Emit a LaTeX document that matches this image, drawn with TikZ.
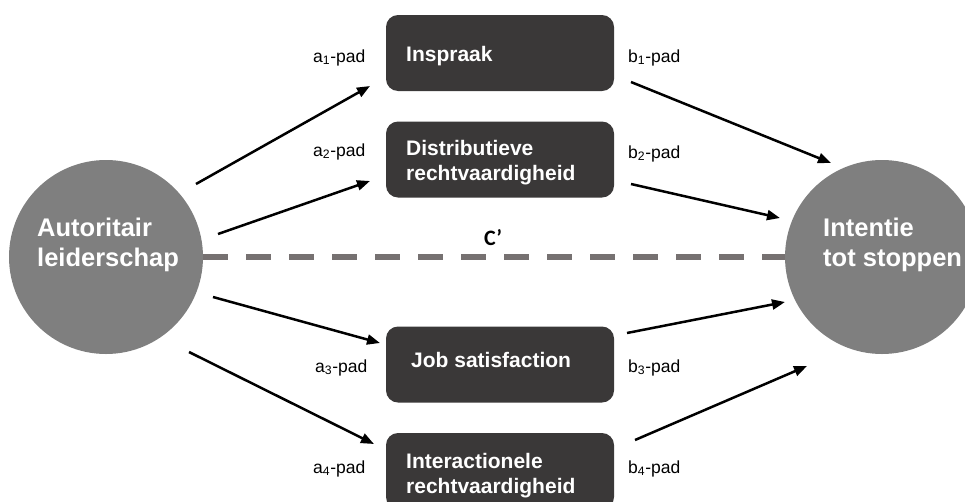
\documentclass[tikz,border=0pt]{standalone}
\usepackage{fontspec}
\setmainfont{Liberation Sans}
\newfontfamily\calibrifont{Carlito}
\usetikzlibrary{arrows.meta}
\definecolor{circgray}{HTML}{7F7F7F}
\definecolor{boxdark}{HTML}{3A3838}
\definecolor{dashgray}{HTML}{767171}
\tikzset{
  circ/.style={circle, fill=circgray, minimum size=194pt, inner sep=0pt},
  circtext/.style={anchor=base west, text=white, font=\fontsize{25.5}{30}\selectfont\bfseries, align=left, inner sep=0pt},
  mbox/.style={rounded corners=12pt, fill=boxdark, minimum width=228pt, minimum height=76pt, inner sep=0pt},
  boxtext/.style={anchor=base west, text=white, font=\fontsize{21}{25}\selectfont\bfseries, align=left, inner sep=0pt},
  pad/.style={anchor=base west, font=\fontsize{17.5}{20}\selectfont, inner sep=0pt},
  arr/.style={line width=2.5pt, -{Triangle[length=13pt,width=10pt]}},
  cdash/.style={line width=6pt, dashgray, dash pattern=on 25pt off 18pt}
}
\begin{document}
\begin{tikzpicture}[x=1pt,y=-1pt]
\useasboundingbox (0,0) rectangle (965,501);
% circles
\node[circ] (L) at (106,257) {};
\node[circ] (R) at (882,257) {};
\node[circtext] (Lt) at (37,266) {Autoritair\\leiderschap};
\node[circtext] (Rt) at (823,266) {Intentie\\tot stoppen};
% boxes
\node[mbox] (B1) at (500,53) {};
\node[mbox] (B2) at (500,159.5) {};
\node[mbox] (B3) at (500,364.5) {};
\node[mbox] (B4) at (500,471) {};
\node[boxtext] (B1t) at (406,61) {Inspraak};
\node[boxtext] (B2t) at (406,180) {Distributieve\\rechtvaardigheid};
\node[boxtext] (B3t) at (411,367) {Job satisfaction};
\node[boxtext] (B4t) at (406,493) {Interactionele\\rechtvaardigheid};
% dashed direct path
\draw[cdash] (L.east) -- (R.west);
\node[anchor=base, inner sep=0pt, font=\fontsize{22}{24}\selectfont\calibrifont\bfseries] (cp) at (493,245) {C’};
% labels
\node[pad] (a1) at (313,62) {a\textsubscript{1}-pad};
\node[pad] (a2) at (313,156) {a\textsubscript{2}-pad};
\node[pad] (a3) at (315,372) {a\textsubscript{3}-pad};
\node[pad] (a4) at (313,473) {a\textsubscript{4}-pad};
\node[pad] (b1) at (628,62) {b\textsubscript{1}-pad};
\node[pad] (b2) at (628,158) {b\textsubscript{2}-pad};
\node[pad] (b3) at (628,372) {b\textsubscript{3}-pad};
\node[pad] (b4) at (628,473) {b\textsubscript{4}-pad};
% arrow endpoints
\coordinate (a1s) at (196,184); \coordinate (a1e) at (370,86);
\coordinate (a2s) at (218,234); \coordinate (a2e) at (370,181);
\coordinate (a3s) at (213,297); \coordinate (a3e) at (380,343);
\coordinate (a4s) at (189,352); \coordinate (a4e) at (374,444);
\coordinate (b1s) at (631,82);  \coordinate (b1e) at (831,163);
\coordinate (b2s) at (631,184); \coordinate (b2e) at (780,218);
\coordinate (b3s) at (627,333); \coordinate (b3e) at (785,302);
\coordinate (b4s) at (635,440); \coordinate (b4e) at (807,366);
\draw[arr] (a1s) -- (a1e);
\draw[arr] (a2s) -- (a2e);
\draw[arr] (a3s) -- (a3e);
\draw[arr] (a4s) -- (a4e);
\draw[arr] (b1s) -- (b1e);
\draw[arr] (b2s) -- (b2e);
\draw[arr] (b3s) -- (b3e);
\draw[arr] (b4s) -- (b4e);
\end{tikzpicture}
\end{document}
